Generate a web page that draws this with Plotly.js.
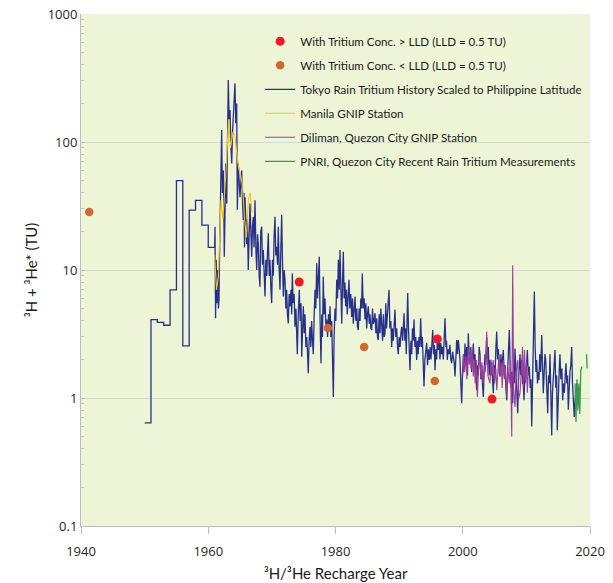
<!DOCTYPE html>
<html><head><meta charset="utf-8">
<script src="https://cdn.plot.ly/plotly-3.0.1.min.js"></script>
<style>html,body{margin:0;padding:0;background:#fff}#chart{width:613px;height:583px}</style>
</head><body><div id="chart"></div>
<script>
// Annual step history (pre-1961), value applies from year to next year
var stepYears = [1950,1951,1952,1953,1954,1955,1956,1957,1958,1959,1960,1961];
var stepVals  = [0.64,4.1,3.9,3.7,7.0,50,2.55,29.4,35,22.4,15];

// Dense Tokyo-scaled record (1961 onward)
var tokyoYears = [1961.06,1961.15,1961.25,1961.35,1961.48,1961.60,1961.69,1961.77,1961.85,1961.95,
1962.11,1962.22,1962.37,1962.45,1962.52,1962.62,1962.74,1962.90,1963.06,1963.15,1963.28,1963.42,1963.55,1963.69,1963.82,1963.94,
1964.05,1964.20,1964.33,1964.47,1964.57,1964.65,1964.72,1964.85,1964.99,1965.12,1965.26,1965.40,1965.51,1965.62,1965.70,1965.78,1965.90,
1966.04,1966.15,1966.29,1966.42,1966.56,1966.70,1966.83,1966.95,1967.08,1967.20,1967.35,1967.50,1967.62,1967.75,1967.87,
1968.00,1968.13,1968.25,1968.40,1968.52,1968.65,1968.80,1968.92,1969.05,1969.20,1969.32,1969.44,1969.58,1969.70,1969.85,1969.97,
1970.10,1970.22,1970.35,1970.49,1970.62,1970.76,1970.88,1971.01,1971.15,1971.28,1971.40,1971.54,1971.68,1971.80,1971.93,
1972.06,1972.20,1972.32,1972.45,1972.58,1972.72,1972.85,1973.00,1973.12,1973.21,1973.35,1973.50,1973.63,1973.78,
1974.00,1974.15,1974.31,1974.45,1974.58,1974.69,1974.82,1974.94,1975.08,1975.20,1975.35,1975.47,1975.60,1975.72,1975.85,1975.99,
1976.12,1976.25,1976.38,1976.51,1976.65,1976.78,1976.90,1977.05,1977.18,1977.30,1977.45,1977.58,1977.72,1977.85,1977.95,
1978.08,1978.20,1978.35,1978.50,1978.62,1978.75,1978.90,1979.02,1979.14,1979.28,1979.40,1979.55,1979.66,1979.78,1979.92,
1980.05,1980.19,1980.32,1980.45,1980.58,1980.71,1980.85,1980.98,1981.10,1981.23,1981.35,1981.48,1981.60,1981.72,1981.85,1981.98,
1982.12,1982.25,1982.40,1982.55,1982.68,1982.80,1982.95,1983.07,1983.20,1983.35,1983.45,1983.58,1983.72,1983.85,1983.98,
1984.10,1984.21,1984.35,1984.50,1984.64,1984.78,1984.90,1985.02,1985.16,1985.30,1985.42,1985.55,1985.69,1985.82,1985.95,
1986.08,1986.21,1986.35,1986.48,1986.60,1986.73,1986.86,1987.00,1987.12,1987.26,1987.40,1987.52,1987.65,1987.78,1987.90,
1988.02,1988.15,1988.28,1988.41,1988.55,1988.70,1988.83,1988.95,1989.08,1989.22,1989.35,1989.48,1989.62,1989.75,1989.87,
1990.00,1990.15,1990.28,1990.41,1990.55,1990.67,1990.77,1990.90,1991.02,1991.12,1991.25,1991.35,1991.47,1991.60,1991.71,1991.85,1991.98,
1992.10,1992.22,1992.34,1992.48,1992.62,1992.76,1992.88,1993.00,1993.12,1993.25,1993.39,1993.52,1993.65,1993.78,1993.91,
1994.05,1994.20,1994.33,1994.47,1994.60,1994.74,1994.88,1995.00,1995.15,1995.28,1995.40,1995.52,1995.64,1995.78,1995.90,
1996.03,1996.16,1996.30,1996.42,1996.55,1996.68,1996.80,1996.95,1997.08,1997.21,1997.35,1997.45,1997.57,1997.70,1997.85,1997.98,
1998.12,1998.26,1998.40,1998.52,1998.65,1998.78,1998.90,1999.05,1999.18,1999.30,1999.45,1999.57,1999.70,1999.83,1999.95,
2000.10,2000.22,2000.35,2000.48,2000.62,2000.75,2000.87,2001.00,2001.14,2001.27,2001.40,2001.53,2001.66,2001.80,2001.92,
2002.05,2002.19,2002.32,2002.45,2002.58,2002.71,2002.85,2002.98,2003.10,2003.23,2003.36,2003.50,2003.62,2003.76,2003.90,
2004.02,2004.15,2004.28,2004.40,2004.55,2004.68,2004.80,2004.95,2005.08,2005.20,2005.34,2005.47,2005.60,2005.73,2005.86,
2006.00,2006.12,2006.25,2006.37,2006.52,2006.65,2006.78,2006.91,2007.05,2007.18,2007.32,2007.45,2007.58,2007.72,2007.85,2007.98,
2008.10,2008.21,2008.35,2008.50,2008.64,2008.78,2008.90,2009.00,2009.13,2009.27,2009.40,2009.52,2009.63,2009.78,2009.90,
2010.02,2010.15,2010.30,2010.46,2010.60,2010.72,2010.84,2010.98,2011.10,2011.25,2011.38,2011.50,2011.62,2011.75,2011.88,2011.98,
2012.10,2012.25,2012.41,2012.53,2012.66,2012.78,2012.92,2013.04,2013.18,2013.35,2013.48,2013.60,2013.71,2013.85,2013.98,
2014.10,2014.23,2014.36,2014.50,2014.62,2014.75,2014.86,2015.00,2015.15,2015.28,2015.42,2015.58,2015.71,2015.85,2015.98,
2016.10,2016.23,2016.35,2016.48,2016.59,2016.72,2016.85,2016.98,2017.12,2017.25,2017.40,2017.53,2017.65,2017.78,2017.91,
2018.05,2018.18,2018.32];
var tokyoVals = [21.8,4.2,12,5.5,10,5.0,5.8,12.7,23,45,
124,40,60,30,12.7,25,68,33,120,305,150,178,95,68,120,178,
250,287,140,200,29.5,45,68,50,37,48,60,32,24.6,40,15,37,20,
16,25,10,18,33,20,12.7,22,26,15,35,14,10,19,16,
9,7.4,20,21.8,11,14.3,9,6.2,12,9,14,19.4,9,12,7,5.5,
12,9,18,26,13,15.2,11,21.8,10,7.0,14,27,11,6.2,10,
8.4,5,7,4.5,3.83,6.5,5.2,7,4.5,9.4,5.5,6.5,3.6,5,
2.2,4.5,7.0,4,5.5,2.1,3.5,5.2,3.2,4.5,2.5,3.0,2.3,1.56,2.8,3.6,
2.5,4,2.8,2.2,4.5,7,5,11.3,6,9,12.7,4,1.87,4.5,3,
8.9,4.5,6,3.5,4.1,3,4.5,3.5,5.2,3,4,2,1.02,3,5,
4,8.4,6,12,7,14.3,7,3.8,8,13.9,6,8,5.2,7,4.5,6.5,
8.4,5,6.5,4.3,6,3.8,5,6.2,4,5,3.6,3.4,5,4,6,
5,9.4,5,6,4.1,5.5,3.5,4.5,5.2,3.8,4.5,3.5,3.4,5,3.8,
4,4.6,3.2,4.2,3,2.84,4.5,3.2,5,3.8,2.8,4.5,3,3.2,5.5,
3.5,4.5,5,7.0,3.5,4,2.5,3.5,2.8,4,4.9,3,3.5,2.5,2.2,
3,2.5,3.2,3.6,2.8,3.5,4.6,2.8,3.5,2.2,4,6.6,3.5,2.5,1.65,2.8,2.2,
3.5,2.8,4.1,2.5,3,1.98,2.8,2.2,3,2.5,4.2,2.5,3,1.8,1.23,
2,2.5,2.7,1.8,2.4,1.98,2.5,2.0,3,3.4,2.2,2.6,1.65,2.4,2,
3,2.37,2.8,2,2.7,2.2,2.5,2,3,4.2,2.5,2.8,1.98,2.4,2.2,2.6,
2,1.87,2.3,2.1,1.9,1.47,2.2,2.84,2.2,2.84,2.4,1.98,1.3,0.91,1.5,
2.2,1.6,2.67,1.8,2.5,1.5,3.2,2.2,1.87,2.5,1.6,2,2.67,1.8,2.2,
1.5,1.15,1.8,1.5,2.5,2.2,1.4,1.8,1.3,1.02,1.6,2.2,1.8,3.0,2.0,
2.5,1.5,1.98,1.5,1.9,1.4,1.09,1.8,1.5,2.4,3.3,2.0,2.4,1.6,1.47,
2.2,1.6,2.0,2.37,1.5,1.8,1.2,0.96,1.6,2.2,3.4,1.8,1.2,1.6,0.91,1.6,
1.3,2.44,1.5,1.2,0.76,1.4,1.8,2.2,1.5,1.98,1.3,1.3,0.96,1.6,1.4,
1.9,2.37,1.5,1.76,1.2,1.4,0.6,1.5,2.2,6.8,2.5,1.6,1.98,1.3,1.6,1.38,
2.2,1.6,3.1,1.8,1.09,1.5,2.2,1.98,1.3,0.76,1.5,1.3,2.2,1.2,0.51,
1.1,1.47,1.8,2.37,1.2,1.5,0.56,1.2,1.6,2.2,1.4,1.7,0.96,1.3,1.1,
1.5,1.87,1.3,1.5,0.81,1.2,1.6,1.8,2.5,1.3,1.0,0.71,0.95,1.1,1.3,
0.9,1.2,1.02];

// Manila GNIP station
var manilaYears = [1961.0,1961.3,1961.6,1961.8,1962.0,1962.3,1962.8,1963.2,1963.5,1963.9,1964.2,1964.5,1964.8,1965.1,1965.4,1965.7,1966.0,1966.3,1966.6,1966.9];
var manilaVals  = [13,7,9,20,35,25,60,150,90,120,110,80,62,55,45,25,18,35,40,28];

// Diliman, Quezon City GNIP station
var dilimanYears = [2000.00,2000.15,2000.30,2000.50,2000.65,2000.85,2001.00,2001.15,2001.30,2001.50,2001.66,2001.80,2001.95,
2002.15,2002.30,2002.50,2002.71,2002.85,2003.00,2003.20,2003.40,2003.55,2003.76,2003.95,2004.28,2004.45,2004.60,2004.80,
2005.00,2005.20,2005.34,2005.50,2005.70,2005.86,2006.05,2006.20,2006.40,2006.55,2006.70,2006.91,2007.10,2007.30,2007.50,
2007.70,2007.85,2008.00,2008.21,2008.40,2008.64,2008.80,2009.00,2009.20,2009.40,2009.52,2009.70,2009.85,2010.00,2010.15,2010.30];
var dilimanVals = [1.5,2.2,1.6,2.1,1.4,2.5,1.8,2.5,1.7,2.3,1.47,2.0,1.3,
1.98,1.02,1.8,2.2,1.4,1.9,1.3,1.8,1.6,3.3,1.5,1.3,2.0,1.5,1.98,
1.3,1.7,1.15,1.7,2.2,1.5,1.9,1.2,1.98,1.4,1.8,1.02,1.7,1.3,1.98,
0.5,10.9,1.2,0.85,1.6,1.98,1.0,1.09,1.6,2.5,1.2,2.37,1.3,1.9,1.1,1.6];

// PNRI, Quezon City recent rain tritium
var pnriYears = [2017.65,2017.80,2017.95,2018.10,2018.25,2018.40,2018.55,2018.75,2019.0,2019.45,2019.55];
var pnriVals  = [1.3,0.65,1.4,0.8,1.3,0.75,1.65,1.76,null,2.2,1.7];

// Groundwater samples
var aboveYears = [1974.3,1996.0,2004.6];
var aboveVals  = [8.06,2.89,0.98];
var belowYears = [1941.3,1978.8,1984.5,1995.6];
var belowVals  = [28.4,3.52,2.5,1.36];

// Build step vertices + dense series for the Tokyo trace
var tx = [], ty = [];
for (var i = 0; i < stepVals.length; i++) {
  tx.push(stepYears[i]); ty.push(stepVals[i]);
  tx.push(stepYears[i+1]); ty.push(stepVals[i]);
}
tx = tx.concat(tokyoYears); ty = ty.concat(tokyoVals);

var legFont = {family: 'Lato, "Open Sans", sans-serif', size: 11.6, color: '#1a1a1a'};

var traces = [
  {x: tx, y: ty, type: 'scatter', mode: 'lines', name: 'Tokyo Rain Tritium History Scaled to Philippine Latitude',
   line: {color: '#28318a', width: 1.3}, legendrank: 3, legendgroup: 'c'},
  {x: manilaYears, y: manilaVals, type: 'scatter', mode: 'lines', name: 'Manila GNIP Station',
   line: {color: '#f5c518', width: 1.1}, legendrank: 4, legendgroup: 'd'},
  {x: dilimanYears, y: dilimanVals, type: 'scatter', mode: 'lines', name: 'Diliman, Quezon City GNIP Station',
   line: {color: '#9c3c9e', width: 1.1}, legendrank: 5, legendgroup: 'e'},
  {x: pnriYears, y: pnriVals, type: 'scatter', mode: 'lines', name: 'PNRI, Quezon City Recent Rain Tritium Measurements',
   line: {color: '#3a9b4e', width: 1.3}, legendrank: 6, legendgroup: 'f', connectgaps: false},
  {x: aboveYears, y: aboveVals, type: 'scatter', mode: 'markers', name: 'With Tritium Conc. > LLD (LLD = 0.5 TU)',
   marker: {color: '#ec1c24', size: 9}, legendrank: 1, legendgroup: 'a'},
  {x: belowYears, y: belowVals, type: 'scatter', mode: 'markers', name: 'With Tritium Conc. < LLD (LLD = 0.5 TU)',
   marker: {color: '#cf6a2e', size: 8.5}, legendrank: 2, legendgroup: 'b'}
];

var tickFont = {family: '"Open Sans", sans-serif', size: 13, color: '#262626'};
var layout = {
  width: 613, height: 583,
  margin: {l: 81, r: 23, t: 14, b: 57, autoexpand: false},
  paper_bgcolor: '#ffffff',
  plot_bgcolor: '#eef5d7',
  showlegend: true,
  legend: {x: 0.352, y: 0.975, xanchor: 'left', yanchor: 'top', bgcolor: 'rgba(0,0,0,0)',
           font: legFont, traceorder: 'grouped', tracegroupgap: 5},
  xaxis: {range: [1940, 2020], dtick: 20, tick0: 1940, showgrid: false, zeroline: false,
          showline: true, linecolor: '#bdbdbd', linewidth: 1,
          ticks: 'outside', ticklen: 7, tickcolor: '#bdbdbd', tickfont: tickFont, ticklabelstandoff: 6,
          title: {text: '³H/³He Recharge Year', font: {family: 'Lato, sans-serif', size: 15, color: '#1a1a1a'}, standoff: 9}},
  yaxis: {type: 'log', range: [-1, 3], dtick: 1, exponentformat: 'none', showgrid: true, gridcolor: '#cfdad2', gridwidth: 1,
          zeroline: false, showline: true, linecolor: '#bdbdbd', linewidth: 1,
          ticks: 'inside', ticklen: 4, tickcolor: '#bdbdbd', tickfont: tickFont,
          minor: {ticks: 'inside', ticklen: 3, tickcolor: '#c4c4c4', dtick: 'D1', showgrid: false},
          title: {text: '³H + ³He* (TU)', font: {family: 'Lato, sans-serif', size: 15, color: '#1a1a1a'}, standoff: 6}}
};

Plotly.newPlot('chart', traces, layout, {displayModeBar: false, staticPlot: true});
</script></body></html>
